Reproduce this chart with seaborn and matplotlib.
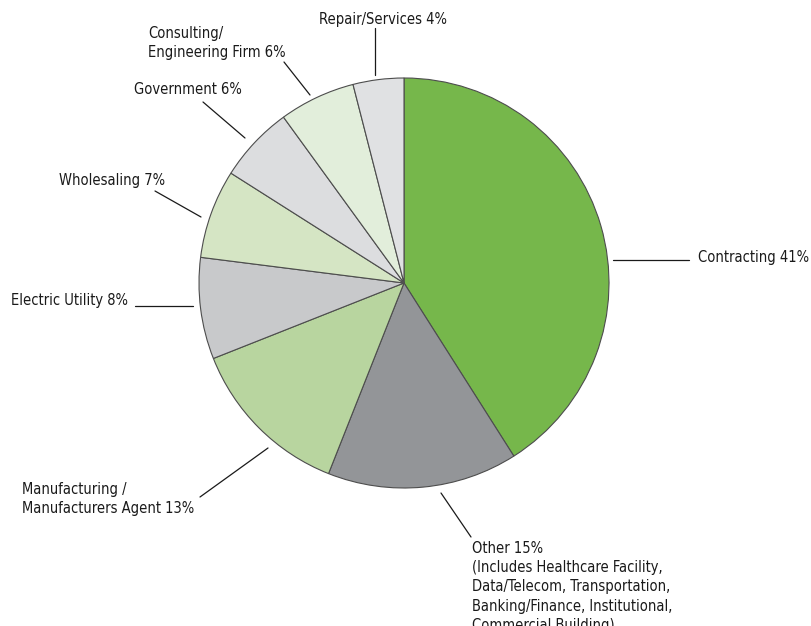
import matplotlib.pyplot as plt
import seaborn as sns

# Survey breakdown by industry sector
sectors = ["Contracting", "Other", "Manufacturing", "Electric Utility",
           "Wholesaling", "Government", "Consulting", "Repair/Services"]
shares = [41, 15, 13, 8, 7, 6, 6, 4]
colors = ["#76b74b", "#939598", "#b8d59f", "#c8c9cb",
          "#d5e5c4", "#dcdddf", "#e2eedb", "#e0e1e3"]
labels = [
    "Contracting 41%",
    "Other 15%\n(Includes Healthcare Facility,\nData/Telecom, Transportation,\n"
    "Banking/Finance, Institutional,\nCommercial Building)",
    "Manufacturing /\nManufacturers Agent 13%",
    "Electric Utility 8%",
    "Wholesaling 7%",
    "Government 6%",
    "Consulting/\nEngineering Firm 6%",
    "Repair/Services 4%",
]

W, H = 811, 626

# label anchor (left, top) and leader line ends, in pixel space
label_pos = [(698, 250), (472, 541), (22, 482), (11, 293),
             (59, 173), (134, 82), (148, 26), (319, 12)]
leaders = [((613, 260), (689, 260)), ((441, 493), (471, 537)),
           ((268, 448), (200, 497)), ((193, 306), (135, 306)),
           ((201, 217), (155, 191)), ((245, 138), (203, 102)),
           ((310, 95), (284, 62)), ((375, 75), (375, 28))]

sns.set_theme(style="white")
plt.rcParams["font.family"] = ["DejaVu Sans"]

fig = plt.figure(figsize=(W / 100, H / 100), dpi=100)
ax = fig.add_axes([0, 0, 1, 1])

ax.pie(shares, colors=colors, startangle=90, counterclock=False,
       center=(404, H - 283), radius=205,
       wedgeprops=dict(edgecolor="#4d4d4d", linewidth=0.8))

for (x0, y0), (x1, y1) in leaders:
    ax.plot([x0, x1], [H - y0, H - y1], color="#1a1a1a", lw=0.9)

for text, (x, y) in zip(labels, label_pos):
    ax.text(x, H - y, text, ha="left", va="top", fontsize=10.5,
            fontstretch="condensed", color="#1a1a1a", linespacing=1.35)

ax.set_xlim(0, W)
ax.set_ylim(0, H)
ax.set_aspect("equal")
ax.axis("off")

plt.savefig("out.png", dpi=100)
plt.close()
